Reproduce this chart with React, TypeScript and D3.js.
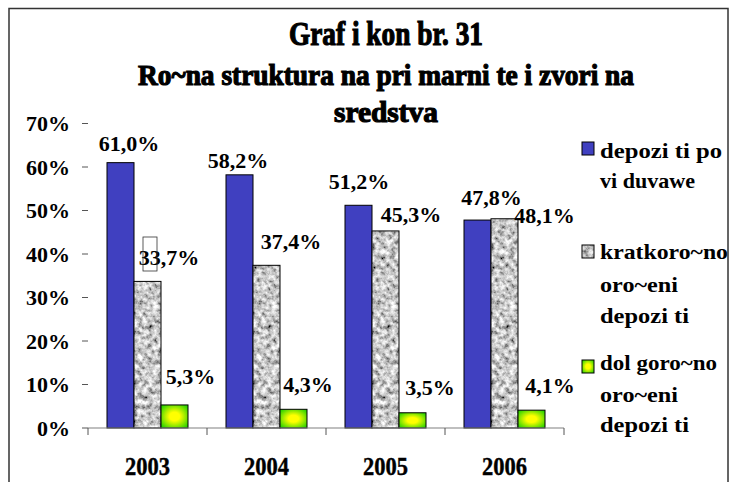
import * as d3 from "d3";

const years = ["2003", "2004", "2005", "2006"];
const seriesKeys = ["viduvawe", "kratkorocni", "dolgorocni"];
const demandDeposits = [61.0, 58.2, 51.2, 47.8];
const shortTermDeposits = [33.7, 37.4, 45.3, 48.1];
const longTermDeposits = [5.3, 4.3, 3.5, 4.1];
const yTicks = [0, 10, 20, 30, 40, 50, 60, 70];

const titleLines = ["Graf i kon br.  31", "Ro~na struktura na pri marni te i zvori na", "sredstva"];
const legendLines = [
  ["depozi ti po", "vi duvawe"],
  ["kratkoro~no", "oro~eni", "depozi ti"],
  ["dol goro~no", "oro~eni", "depozi ti"],
];

// label nudges relative to bar top centre (reference has hand-moved labels)
const labelNudge = [
  [[8.5, -11.6], [-1.5, -6.8], [0.5, -16.3], [14, -15]],
  [[21.5, -16.4], [24.5, -16.3], [25.5, -8.9], [40, 4.2]],
  [[16, -21], [14.5, -17.3], [17.5, -17.8], [18.5, -17.2]],
];

const W = 732;
const H = 482;
const fmt = (v: number) => v.toFixed(1).replace(".", ",") + "%";

export default function App() {
  const values = [demandDeposits, shortTermDeposits, longTermDeposits];
  const x = d3.scaleBand<string>().domain(years).range([88, 564]);
  const inner = d3.scaleBand<string>().domain(seriesKeys).range([19, 100]);
  const y = d3.scaleLinear().domain([0, 70]).range([428, 123.5]);
  const fills = ["#4040c0", "#b8b8b8", "url(#greenGrad)"];
  const bw = inner.bandwidth();

  const legendY = [142, 245, 360];
  const legendBase = [[158, 188], [259, 292, 323], [370, 402, 432]];
  const legendWidths = [[122, 95], [128, 78, 89], [117, 78, 89]];

  return (
    <svg
      width={W}
      height={H}
      style={{
        position: "absolute",
        left: 0,
        top: 0,
        background: "#fff",
        fontFamily: "Liberation Serif",
        fontWeight: 700,
      }}
    >
      <defs>
        <filter id="granite" x="0" y="0" width="1" height="1">
          <feTurbulence type="fractalNoise" baseFrequency="0.2" numOctaves="4" seed="7" result="n" />
          <feColorMatrix
            in="n"
            type="matrix"
            values="1.6 0 0 0 -0.22  1.6 0 0 0 -0.22  1.6 0 0 0 -0.22  0 0 0 0 1"
            result="g"
          />
          <feComposite in="g" in2="SourceGraphic" operator="in" />
        </filter>
        <radialGradient id="greenGrad" cx="0.5" cy="0.5" r="0.62">
          <stop offset="0" stopColor="#ffff00" />
          <stop offset="0.3" stopColor="#ffff00" />
          <stop offset="1" stopColor="#2fd400" />
        </radialGradient>
      </defs>

      <rect x={9} y={8.5} width={719} height={480} fill="#fff" stroke="#333" strokeWidth={1.5} />

      {/* title */}
      {titleLines.map((t, i) => (
        <text
          key={t}
          x={[289, 138, 334][i]}
          y={[45, 85, 122][i]}
          textLength={[194, 496, 104][i]}
          lengthAdjust="spacingAndGlyphs"
          fontSize={[34, 30, 30][i]}
          stroke="#000"
          strokeWidth={1.2}
          fill="#000"
        >
          {t}
        </text>
      ))}

      {/* y ticks */}
      {yTicks.map((t) => (
        <g key={t}>
          <line x1={82} x2={88} y1={y(t)} y2={y(t)} stroke="#555" />
          <text x={70} y={y(t) + 7.5} textAnchor="end" fontSize={22}>
            {t}%
          </text>
        </g>
      ))}

      {/* bars */}
      {years.map((yr, i) => (
        <g key={yr} transform={`translate(${x(yr)},0)`}>
          {seriesKeys.map((k, s) => {
            const v = values[s][i];
            const bx = inner(k)!;
            return (
              <g key={k}>
                <rect
                  x={bx}
                  y={y(v)}
                  width={bw}
                  height={y(0) - y(v)}
                  fill={fills[s]}
                  filter={s === 1 ? "url(#granite)" : undefined}
                />
                <rect
                  x={bx}
                  y={y(v)}
                  width={bw}
                  height={y(0) - y(v)}
                  fill="none"
                  stroke="#000"
                  strokeWidth={1}
                />
              </g>
            );
          })}
        </g>
      ))}

      {/* x axis */}
      <line x1={88} x2={564} y1={y(0)} y2={y(0)} stroke="#808080" strokeWidth={1.2} />
      {[...years.map((yr) => x(yr)!), 564].map((px) => (
        <line key={px} x1={px} x2={px} y1={y(0)} y2={y(0) + 7} stroke="#555" />
      ))}
      {years.map((yr) => (
        <text
          key={yr}
          x={x(yr)! + x.bandwidth() / 2 - 22.5}
          y={475}
          textLength={45}
          lengthAdjust="spacingAndGlyphs"
          fontSize={25}
          stroke="#000"
          strokeWidth={0.4}
        >
          {yr}
        </text>
      ))}

      {/* value labels */}
      {seriesKeys.map((k, s) =>
        years.map((yr, i) => {
          const v = values[s][i];
          const cx = x(yr)! + inner(k)! + bw / 2 + labelNudge[s][i][0];
          const cy = y(v) + labelNudge[s][i][1];
          return (
            <text key={k + yr} x={cx} y={cy} textAnchor="middle" fontSize={22}>
              {fmt(v)}
            </text>
          );
        })
      )}
      <rect x={143} y={237} width={14} height={34} fill="none" stroke="#333" strokeWidth={0.8} />

      {/* legend */}
      {legendLines.map((lines, s) => (
        <g key={s}>
          <rect
            x={582}
            y={legendY[s]}
            width={12}
            height={13}
            fill={fills[s]}
            filter={s === 1 ? "url(#granite)" : undefined}
          />
          <rect x={582} y={legendY[s]} width={12} height={13} fill="none" stroke="#000" />
          {lines.map((l, j) => (
            <text
              key={j}
              x={600}
              y={legendBase[s][j]}
              textLength={legendWidths[s][j]}
              lengthAdjust="spacingAndGlyphs"
              fontSize={22}
            >
              {l}
            </text>
          ))}
        </g>
      ))}
    </svg>
  );
}
